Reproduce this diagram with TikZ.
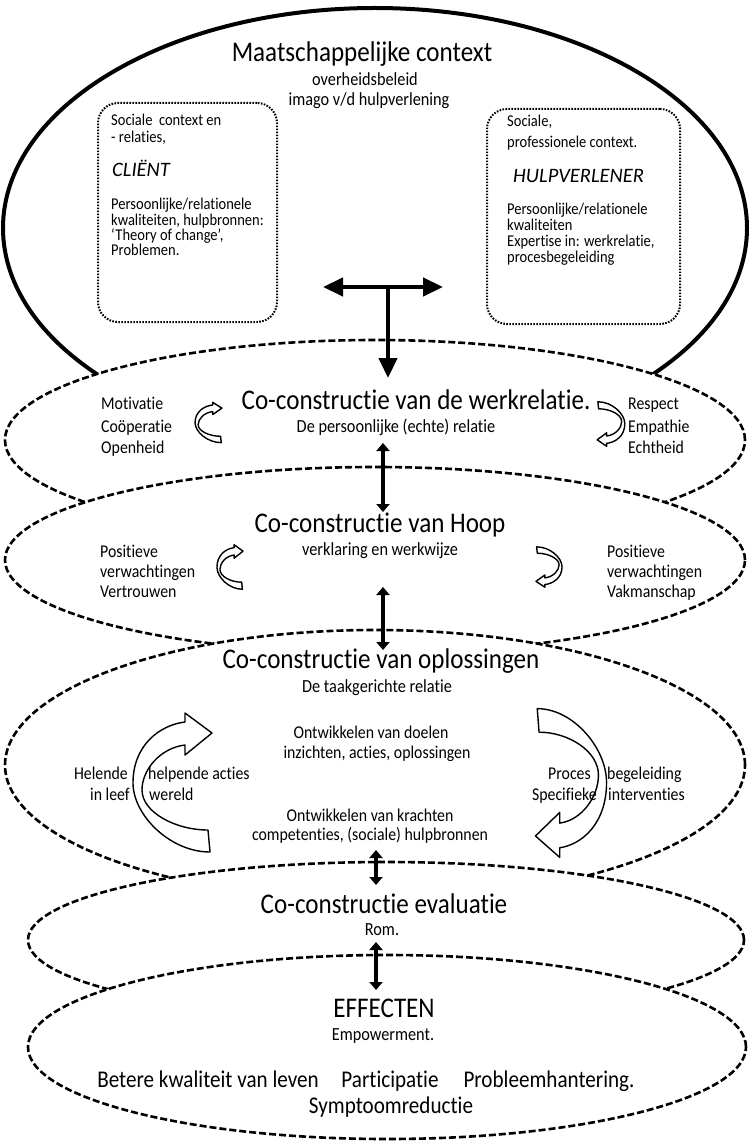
\documentclass[tikz,border=0pt]{standalone}
\usepackage{fontspec}
\setmainfont{Carlito}[FakeStretch=0.88, Ligatures=NoCommon]
\newfontfamily\plainfont{Carlito}[Ligatures=NoCommon]
\usetikzlibrary{arrows.meta,shapes.geometric}
\newcommand{\curvdraw}{\draw[line width=1.4pt, fill=white, line join=round]
    (37.5,69.5) .. controls (-2.5,69.5) and (-39.5,32.5) .. (-39.5,0.5)
    .. controls (-39.5,-37.5) and (-12.5,-57.5) .. (12.5,-60.5)
    -- (12.5,-69.5) -- (39.5,-49.5) -- (12.5,-27.5) -- (12.5,-37.5)
    .. controls (-12.5,-34.5) and (-30.5,-12.5) .. (-30.5,7.5)
    .. controls (-30.5,29.5) and (2.5,47.5) .. (35.5,47.5) -- cycle;}
\begin{document}
\begin{tikzpicture}[x=1pt,y=-1pt,
  solidell/.style={ellipse, draw, line width=4pt, fill=white, inner sep=0pt},
  dashell/.style={ellipse, draw, line width=2.6pt, dash pattern=on 7pt off 3pt, fill=white, inner sep=0pt},
  dotbox/.style={draw, rounded corners=20pt, line width=2pt, dash pattern=on 1.6pt off 1.4pt, inner sep=0pt},
  bigarr/.style={line width=4.5pt, {Triangle[length=20pt,width=18pt]}-{Triangle[length=20pt,width=18pt]}},
  bigdown/.style={line width=4.5pt, -{Triangle[length=20pt,width=18pt]}},
  dblarr/.style={line width=4pt, {Triangle[length=8pt,width=13pt]}-{Triangle[length=8pt,width=13pt]}},
  title/.style={inner sep=0pt, font=\fontsize{28.5}{30}\selectfont},
  sub/.style={inner sep=0pt, font=\fontsize{18.5}{20}\selectfont},
  side/.style={inner sep=0pt, font=\fontsize{18}{20}\selectfont},
  boxt/.style={inner sep=0pt, font=\fontsize{16.5}{18}\selectfont},
  boxtitle/.style={inner sep=0pt, font=\plainfont\itshape\fontsize{20.5}{22}\selectfont},
  effect/.style={inner sep=0pt, font=\fontsize{24}{26}\selectfont}
]
\useasboundingbox (0,0) rectangle (749,1147);
\fill[white] (0,0) rectangle (749,1147);

% outer context ellipse
\node[solidell, minimum width=744pt, minimum height=440pt] (ctx) at (375,228) {};

% dotted boxes
\node[dotbox, minimum width=179pt, minimum height=219pt] (client) at (187.5,212.5) {};
\node[dotbox, minimum width=193pt, minimum height=215pt] (hulp) at (583.5,216.5) {};

% dashed ellipses
\node[dashell, minimum width=740pt, minimum height=200pt] (e1) at (375,440) {};
\node[dashell, minimum width=740pt, minimum height=186pt] (e2) at (375,560) {};
\node[dashell, minimum width=740pt, minimum height=270pt] (e3) at (375,765) {};
\node[dashell, minimum width=716pt, minimum height=156pt] (e4) at (386,940) {};
\node[dashell, minimum width=718pt, minimum height=184pt] (e5) at (387,1047) {};

% curved arrows
\begin{scope}[shift={(208.5,422.5)}, xscale=0.34, yscale=0.29] \curvdraw \end{scope}
\begin{scope}[shift={(611,424)}, xscale=0.35, yscale=0.32, rotate=180] \curvdraw \end{scope}
\begin{scope}[shift={(230,567)}, xscale=0.33, yscale=0.32] \curvdraw \end{scope}
\begin{scope}[shift={(549,567)}, xscale=0.33, yscale=0.29, rotate=180] \curvdraw \end{scope}
\begin{scope}[shift={(172.5,782.5)}] \curvdraw \end{scope}
\begin{scope}[shift={(571,783)}, xscale=0.9, yscale=1.07, rotate=180] \curvdraw \end{scope}

% connectors
\coordinate (tl) at (323,287);
\coordinate (tr) at (443,287);
\coordinate (tm) at (388,285);
\coordinate (tb) at (388,378);
\draw[bigarr] (tl) -- (tr);
\draw[bigdown] (tm) -- (tb);
\coordinate (a1) at (383,443); \coordinate (a2) at (383,512);
\coordinate (b1) at (383,587); \coordinate (b2) at (383,650);
\coordinate (c1) at (376,850); \coordinate (c2) at (376,885);
\coordinate (d1) at (376,942); \coordinate (d2) at (376,990);
\draw[dblarr] (a1) -- (a2);
\draw[dblarr] (b1) -- (b2);
\draw[dblarr] (c1) -- (c2);
\draw[dblarr] (d1) -- (d2);

% texts: context
\node[title, anchor=base] (mc) at (362,62) {Maatschappelijke context};
\node[sub, anchor=base] (ob) at (365,86) {overheidsbeleid};
\node[sub, anchor=base] (im) at (369,106) {imago v/d hulpverlening};

% client box text
\node[boxt, anchor=base west] (c1t) at (111,126) {Sociale\ \ context en};
\node[boxt, anchor=base west] (c2t) at (111,143) {- relaties,};
\node[boxtitle, anchor=base west] (c3t) at (112,177) {CLIËNT};
\node[boxt, anchor=base west] (c4t) at (111,210) {Persoonlijke/relationele};
\node[boxt, anchor=base west] (c5t) at (111,226) {kwaliteiten, hulpbronnen:};
\node[boxt, anchor=base west] (c6t) at (111,241) {‘Theory of change’,};
\node[boxt, anchor=base west] (c7t) at (111,256) {Problemen.};

% hulpverlener box text
\node[boxt, anchor=base west] (h1t) at (507,127) {Sociale,};
\node[boxt, anchor=base west] (h2t) at (507,148) {professionele context.};
\node[boxtitle, anchor=base west] (h3t) at (513,183) {HULPVERLENER};
\node[boxt, anchor=base west] (h4t) at (507,215) {Persoonlijke/relationele};
\node[boxt, anchor=base west] (h5t) at (507,231) {kwaliteiten};
\node[boxt, anchor=base west] (h6t) at (507,247) {Expertise in: werkrelatie,};
\node[boxt, anchor=base west] (h7t) at (507,263) {procesbegeleiding};

% ellipse 1
\node[title, anchor=base] (w1) at (416,409) {Co-constructie van de werkrelatie.};
\node[sub, anchor=base] (w2) at (396,432) {De persoonlijke (echte) relatie};
\node[side, anchor=base west] (w3) at (101,409) {Motivatie};
\node[side, anchor=base west] (w4) at (101,432) {Coöperatie};
\node[side, anchor=base west] (w5) at (101,453) {Openheid};
\node[side, anchor=base west] (w6) at (628,409) {Respect};
\node[side, anchor=base west] (w7) at (628,432) {Empathie};
\node[side, anchor=base west] (w8) at (628,453) {Echtheid};

% ellipse 2
\node[title, anchor=base] (hp1) at (380,532) {Co-constructie van Hoop};
\node[sub, anchor=base] (hp2) at (380,555) {verklaring en werkwijze};
\node[side, anchor=base west] (hp3) at (100,557) {Positieve};
\node[side, anchor=base west] (hp4) at (100,577) {verwachtingen};
\node[side, anchor=base west] (hp5) at (100,597) {Vertrouwen};
\node[side, anchor=base west] (hp6) at (607,557) {Positieve};
\node[side, anchor=base west] (hp7) at (607,577) {verwachtingen};
\node[side, anchor=base west] (hp8) at (607,597) {Vakmanschap};

% ellipse 3
\node[title, anchor=base] (o1) at (381,668) {Co-constructie van oplossingen};
\node[sub, anchor=base] (o2) at (377,692) {De taakgerichte relatie};
\node[side, anchor=base] (o3) at (371,738) {Ontwikkelen van doelen};
\node[side, anchor=base] (o4) at (377,758) {inzichten, acties, oplossingen};
\node[side, anchor=base] (o5) at (370,821) {Ontwikkelen van krachten};
\node[side, anchor=base] (o6) at (370,840) {competenties, (sociale) hulpbronnen};
\node[side, anchor=base east] (o7) at (128,779) {Helende};
\node[side, anchor=base east] (o8) at (130,800) {in leef};
\node[side, anchor=base west] (o9) at (148,779) {helpende acties};
\node[side, anchor=base west] (o10) at (149,800) {wereld};
\node[side, anchor=base east] (o11) at (591,779) {Proces};
\node[side, anchor=base east] (o12) at (597,800) {Specifieke};
\node[side, anchor=base west] (o13) at (607,779) {begeleiding};
\node[side, anchor=base west] (o14) at (608,800) {interventies};

% ellipse 4
\node[title, anchor=base] (v1) at (384,913) {Co-constructie evaluatie};
\node[sub, anchor=base] (v2) at (382,935) {Rom.};

% ellipse 5
\node[title, anchor=base] (f1) at (384,1017) {EFFECTEN};
\node[sub, anchor=base] (f2) at (383,1040) {Empowerment.};
\node[effect, anchor=base] (f3) at (208,1087) {Betere kwaliteit van leven};
\node[effect, anchor=base] (f4) at (390,1087) {Participatie};
\node[effect, anchor=base] (f5) at (549,1087) {Probleemhantering.};
\node[effect, anchor=base] (f6) at (391,1113) {Symptoomreductie};
\end{tikzpicture}
\end{document}
